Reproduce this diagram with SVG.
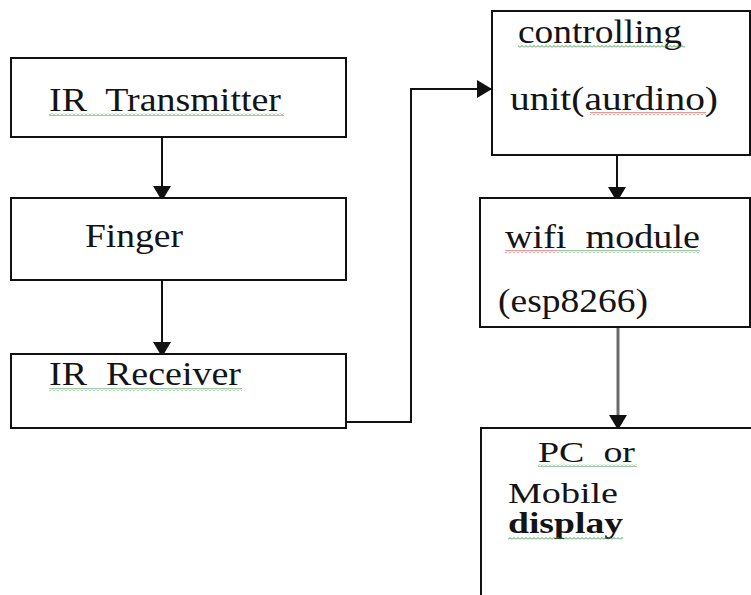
<svg xmlns="http://www.w3.org/2000/svg" width="751" height="595" viewBox="0 0 751 595">
<style>
.box{fill:#fff;stroke:#111;stroke-width:2}
.lbl{font-family:"Liberation Serif","Times New Roman",serif;font-size:33px;fill:#141414;white-space:pre}
.conn{fill:none;stroke:#111;stroke-width:2}
.gray{stroke:#6a6a6a;stroke-width:3}
</style>
<defs>
<marker id="ah" viewBox="0 0 15 18" refX="15" refY="9" markerWidth="15" markerHeight="18" markerUnits="userSpaceOnUse" orient="auto">
<path d="M0,0 L15,9 L0,18 Z" fill="#111"/>
</marker>
<pattern id="wg" width="4" height="3" patternUnits="userSpaceOnUse">
<path d="M0,2.5 L2,0.5 L4,2.5" fill="none" stroke="#3f9a4a" stroke-width="1"/>
</pattern>
<pattern id="wr" width="4" height="3" patternUnits="userSpaceOnUse">
<path d="M0,2.5 L2,0.5 L4,2.5" fill="none" stroke="#cc3a3a" stroke-width="1"/>
</pattern>
</defs>
<rect width="751" height="595" fill="#fff"/>
<g id="connectors">
<line class="conn" x1="162" y1="130" x2="162" y2="201" marker-end="url(#ah)"/>
<line class="conn" x1="162" y1="280" x2="162" y2="357" marker-end="url(#ah)"/>
<polyline class="conn" points="346,422 411,422 411,89 492,89" marker-end="url(#ah)"/>
<line class="conn" x1="617" y1="155" x2="617" y2="202" marker-end="url(#ah)"/>
<line class="conn gray" x1="618" y1="327" x2="618" y2="430" marker-end="url(#ah)"/>
</g>
<g id="ir-transmitter">
<rect class="box" x="11" y="58" width="335" height="79"/>
<text class="lbl" x="49" y="111" textLength="232" lengthAdjust="spacingAndGlyphs">IR  Transmitter</text>
<rect x="49" y="113" width="235" height="3" fill="url(#wg)"/>
</g>
<g id="finger">
<rect class="box" x="11" y="198" width="335" height="82"/>
<text class="lbl" x="85" y="247" textLength="98" lengthAdjust="spacingAndGlyphs">Finger</text>
</g>
<g id="ir-receiver">
<rect class="box" x="11" y="354" width="335" height="74"/>
<text class="lbl" x="49" y="385" textLength="192" lengthAdjust="spacingAndGlyphs">IR  Receiver</text>
<rect x="49" y="388" width="193" height="3" fill="url(#wg)"/>
</g>
<g id="controlling-unit">
<rect class="box" x="492" y="11" width="258" height="144"/>
<text class="lbl" x="518" y="43" textLength="164" lengthAdjust="spacingAndGlyphs">controlling</text>
<rect x="518" y="45" width="167" height="3" fill="url(#wg)"/>
<text class="lbl" x="510" y="110" textLength="208" lengthAdjust="spacingAndGlyphs">unit(aurdino)</text>
<rect x="590" y="112" width="116" height="3" fill="url(#wr)"/>
</g>
<g id="wifi-module">
<rect class="box" x="480" y="198" width="270" height="129"/>
<text class="lbl" x="505" y="248" textLength="195" lengthAdjust="spacingAndGlyphs">wifi  module</text>
<rect x="505" y="250" width="52" height="3" fill="url(#wr)"/>
<rect x="557" y="250" width="143" height="3" fill="url(#wg)"/>
<text class="lbl" x="498" y="312" textLength="150" lengthAdjust="spacingAndGlyphs">(esp8266)</text>
</g>
<g id="pc-mobile-display">
<rect class="box" x="481" y="428" width="290" height="200"/>
<text class="lbl" x="538" y="462" style="font-size:30px" textLength="97" lengthAdjust="spacingAndGlyphs">PC  or</text>
<rect x="538" y="464" width="99" height="3" fill="url(#wg)"/>
<text class="lbl" x="508" y="503" style="font-size:30px" textLength="110" lengthAdjust="spacingAndGlyphs">Mobile</text>
<text class="lbl" x="508" y="533" style="font-size:30px;font-weight:bold" textLength="115" lengthAdjust="spacingAndGlyphs">display</text>
<rect x="508" y="537" width="115" height="3" fill="url(#wg)"/>
</g>
</svg>
